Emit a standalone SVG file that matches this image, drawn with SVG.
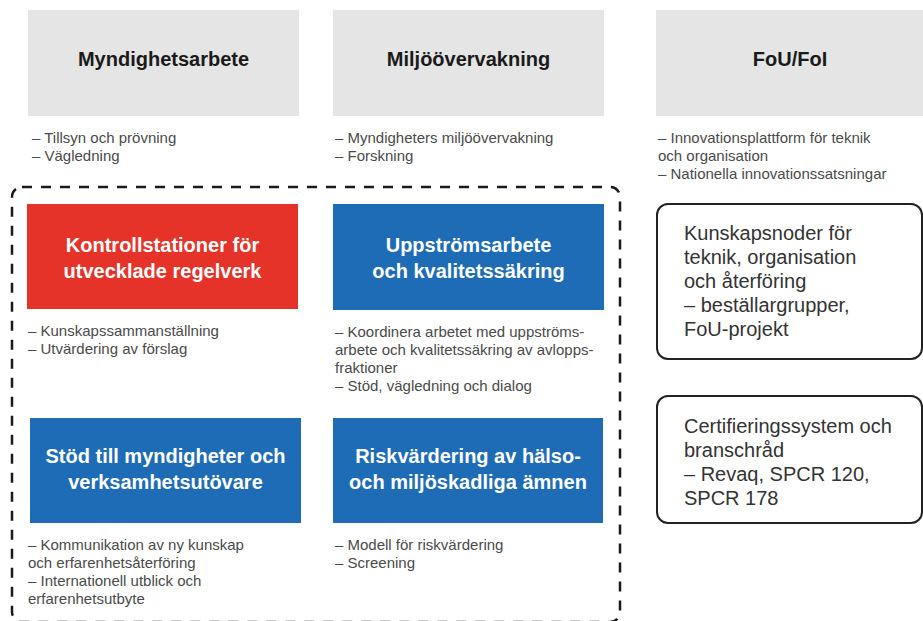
<svg xmlns="http://www.w3.org/2000/svg" width="923" height="621" viewBox="0 0 923 621">
<style>
.gray{fill:#e5e5e5}
.red{fill:#e5332a}
.blue{fill:#1e6cb5}
.ttl{font-family:"Liberation Sans",Arial,sans-serif;font-weight:bold;font-size:20px;fill:#1a1a1a;text-anchor:middle}
.wt{font-family:"Liberation Sans",Arial,sans-serif;font-weight:bold;font-size:20px;fill:#ffffff;text-anchor:middle}
.note{font-family:"Liberation Sans",Arial,sans-serif;font-size:15px;fill:#4a4a4a}
.rb{fill:#ffffff;stroke:#222222;stroke-width:2}
.rt{font-family:"Liberation Sans",Arial,sans-serif;font-size:20px;fill:#333333}
.dash{fill:none;stroke:#1a1a1a;stroke-width:2.5;stroke-dasharray:10 9}
</style>
<rect width="923" height="621" fill="#ffffff"/>
<g id="connectors">
<rect class="dash" x="12" y="187" width="608" height="435" rx="10"/>
</g>
<g id="myndighetsarbete">
<rect class="gray" x="28" y="10" width="271" height="106"/>
<text class="ttl" x="163.5" y="66">Myndighetsarbete</text>
<text class="note" x="32" y="143">– Tillsyn och prövning</text>
<text class="note" x="32" y="161">– Vägledning</text>
</g>
<g id="miljoovervakning">
<rect class="gray" x="333" y="10" width="271" height="106"/>
<text class="ttl" x="468.5" y="66">Miljöövervakning</text>
<text class="note" x="335" y="143">– Myndigheters miljöövervakning</text>
<text class="note" x="335" y="161">– Forskning</text>
</g>
<g id="fou">
<rect class="gray" x="656" y="10" width="267" height="106"/>
<text class="ttl" x="790" y="66">FoU/FoI</text>
<text class="note" x="658" y="143">– Innovationsplattform för teknik</text>
<text class="note" x="658" y="161">och organisation</text>
<text class="note" x="658" y="179">– Nationella innovationssatsningar</text>
</g>
<g id="kontrollstationer">
<rect class="red" x="27" y="204" width="271" height="105"/>
<text class="wt" x="162.5" y="252">Kontrollstationer för</text>
<text class="wt" x="162.5" y="278">utvecklade regelverk</text>
<text class="note" x="28" y="336">– Kunskapssammanställning</text>
<text class="note" x="28" y="354">– Utvärdering av förslag</text>
</g>
<g id="uppstromsarbete">
<rect class="blue" x="333" y="204" width="271" height="106"/>
<text class="wt" x="468.5" y="252">Uppströmsarbete</text>
<text class="wt" x="468.5" y="278">och kvalitetssäkring</text>
<text class="note" x="335" y="337">– Koordinera arbetet med uppströms-</text>
<text class="note" x="335" y="355">arbete och kvalitetssäkring av avlopps-</text>
<text class="note" x="335" y="373">fraktioner</text>
<text class="note" x="335" y="391">– Stöd, vägledning och dialog</text>
</g>
<g id="stod">
<rect class="blue" x="30" y="418" width="271" height="105"/>
<text class="wt" x="165.5" y="463">Stöd till myndigheter och</text>
<text class="wt" x="165.5" y="489">verksamhetsutövare</text>
<text class="note" x="28" y="550">– Kommunikation av ny kunskap</text>
<text class="note" x="28" y="568">och erfarenhetsåterföring</text>
<text class="note" x="28" y="586">– Internationell utblick och</text>
<text class="note" x="28" y="604">erfarenhetsutbyte</text>
</g>
<g id="riskvardering">
<rect class="blue" x="333" y="418" width="270" height="105"/>
<text class="wt" x="468" y="463">Riskvärdering av hälso-</text>
<text class="wt" x="468" y="489">och miljöskadliga ämnen</text>
<text class="note" x="335" y="550">– Modell för riskvärdering</text>
<text class="note" x="335" y="568">– Screening</text>
</g>
<g id="kunskapsnoder">
<rect class="rb" x="657" y="204" width="265" height="155" rx="11"/>
<text class="rt" x="684" y="240">Kunskapsnoder för</text>
<text class="rt" x="684" y="264">teknik, organisation</text>
<text class="rt" x="684" y="288">och återföring</text>
<text class="rt" x="684" y="312">– beställargrupper,</text>
<text class="rt" x="684" y="336">FoU-projekt</text>
</g>
<g id="certifiering">
<rect class="rb" x="657" y="396" width="265" height="127" rx="11"/>
<text class="rt" x="684" y="433">Certifieringssystem och</text>
<text class="rt" x="684" y="457">branschråd</text>
<text class="rt" x="684" y="481">– Revaq, SPCR 120,</text>
<text class="rt" x="684" y="505">SPCR 178</text>
</g>
</svg>
